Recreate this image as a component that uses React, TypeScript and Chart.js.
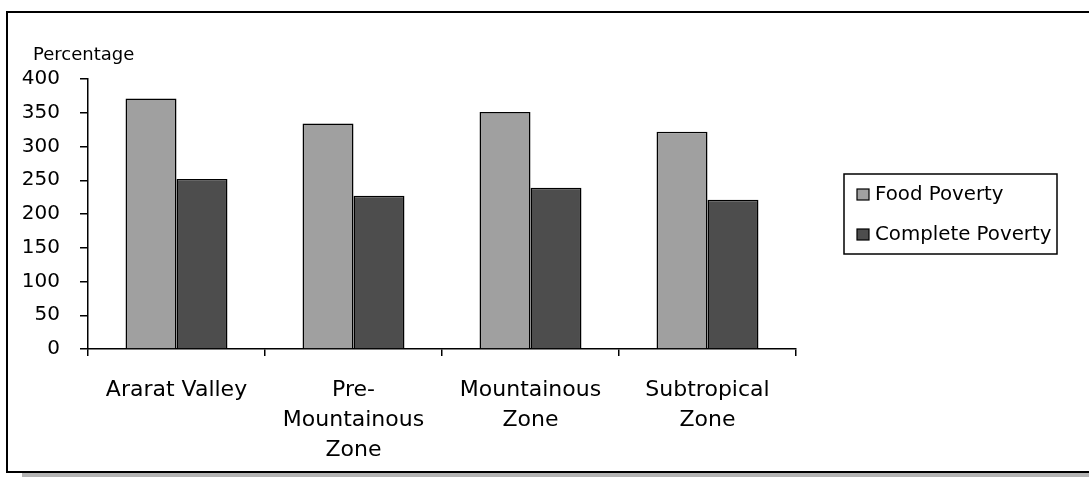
import React, { useEffect, useRef } from "react";
import { Chart, registerables } from "chart.js";

Chart.register(...registerables);

const categories: string[][] = [
  ["Ararat Valley"],
  ["Pre-", "Mountainous", "Zone"],
  ["Mountainous", "Zone"],
  ["Subtropical", "Zone"],
];
const seriesNames = ["Food Poverty", "Complete Poverty"];
const foodPoverty = [371, 334, 351, 322];
const completePoverty = [252, 227, 239, 221];
const yAxisTitle = "Percentage";
const yMin = 0;
const yMax = 400;
const yStep = 50;

const FONT = "'DejaVu Sans', 'Liberation Sans', sans-serif";
const W = 1089;
const H = 477;

const extrasPlugin = {
  id: "extras",
  afterDraw(chart: any) {
    const { ctx, chartArea } = chart;
    ctx.save();
    // y-axis title above the axis
    ctx.font = `18px ${FONT}`;
    ctx.fillStyle = "#000";
    ctx.textAlign = "left";
    ctx.textBaseline = "alphabetic";
    ctx.fillText(yAxisTitle, chartArea.left - 55, chartArea.top - 19);

    // boxed legend on the right
    const boxL = chartArea.right + 48;
    const boxT = (chartArea.top + chartArea.bottom) / 2 - 40;
    const boxW = 213;
    const boxH = 80;
    ctx.lineWidth = 1.5;
    ctx.strokeStyle = "#000";
    ctx.strokeRect(boxL, boxT, boxW, boxH);
    ctx.font = `19.8px ${FONT}`;
    ctx.textBaseline = "middle";
    chart.data.datasets.forEach((ds: any, i: number) => {
      const cy = boxT + 21 + i * 40;
      ctx.fillStyle = ds.backgroundColor;
      ctx.fillRect(boxL + 13, cy - 6, 12, 11);
      ctx.lineWidth = 1.2;
      ctx.strokeStyle = "#000";
      ctx.strokeRect(boxL + 13, cy - 6, 12, 11);
      ctx.fillStyle = "#000";
      ctx.fillText(ds.label, boxL + 31, cy);
    });
    ctx.restore();
  },
};

export default function App() {
  const canvasRef = useRef<HTMLCanvasElement | null>(null);

  useEffect(() => {
    if (!canvasRef.current) return;
    const chart = new Chart(canvasRef.current, {
      type: "bar",
      data: {
        labels: categories,
        datasets: [
          {
            label: seriesNames[0],
            data: foodPoverty,
            backgroundColor: "#a0a0a0",
            borderColor: "#000",
            borderWidth: 1.5,
            barPercentage: 1,
            categoryPercentage: 0.576,
          },
          {
            label: seriesNames[1],
            data: completePoverty,
            backgroundColor: "#4d4d4d",
            borderColor: "#000",
            borderWidth: 1.5,
            barPercentage: 1,
            categoryPercentage: 0.576,
          },
        ],
      },
      options: {
        responsive: false,
        animation: false,
        layout: { padding: { left: 0, top: 79, right: 293, bottom: 0 } },
        plugins: {
          legend: { display: false },
          tooltip: { enabled: false },
          title: { display: false },
        },
        scales: {
          x: {
            afterFit: (scale: any) => {
              scale.height = 128;
            },
            grid: {
              offset: true,
              drawOnChartArea: false,
              drawTicks: true,
              tickLength: 7,
              color: "#000",
              lineWidth: 1.5,
            },
            border: { display: true, color: "#000", width: 1.5 },
            ticks: {
              color: "#000",
              padding: 19,
              maxRotation: 0,
              autoSkip: false,
              font: { family: FONT, size: 22, lineHeight: "30px" },
            },
          },
          y: {
            min: yMin,
            max: yMax,
            afterFit: (scale: any) => {
              scale.width = 88;
            },
            grid: {
              drawOnChartArea: false,
              drawTicks: true,
              tickLength: 8,
              color: "#000",
              lineWidth: 1.5,
            },
            border: { display: true, color: "#000", width: 1.5 },
            ticks: {
              stepSize: yStep,
              color: "#000",
              padding: 20,
              font: { family: FONT, size: 20 },
            },
          },
        },
      },
      plugins: [extrasPlugin],
    });
    return () => chart.destroy();
  }, []);

  return (
    <div
      style={{
        position: "fixed",
        left: 0,
        top: 0,
        width: W,
        height: H,
        overflow: "hidden",
        background: "#fff",
      }}
    >
      <div
        style={{
          position: "absolute",
          left: 22,
          top: 473,
          width: 1200,
          height: 4,
          background: "#b4b4b4",
        }}
      />
      <div
        style={{
          position: "absolute",
          left: 6,
          top: 11,
          width: 1200,
          height: 458,
          border: "2px solid #000",
        }}
      />
      <canvas
        ref={canvasRef}
        width={W}
        height={H}
        style={{ position: "absolute", left: 0, top: 0, width: W, height: H }}
      />
    </div>
  );
}
